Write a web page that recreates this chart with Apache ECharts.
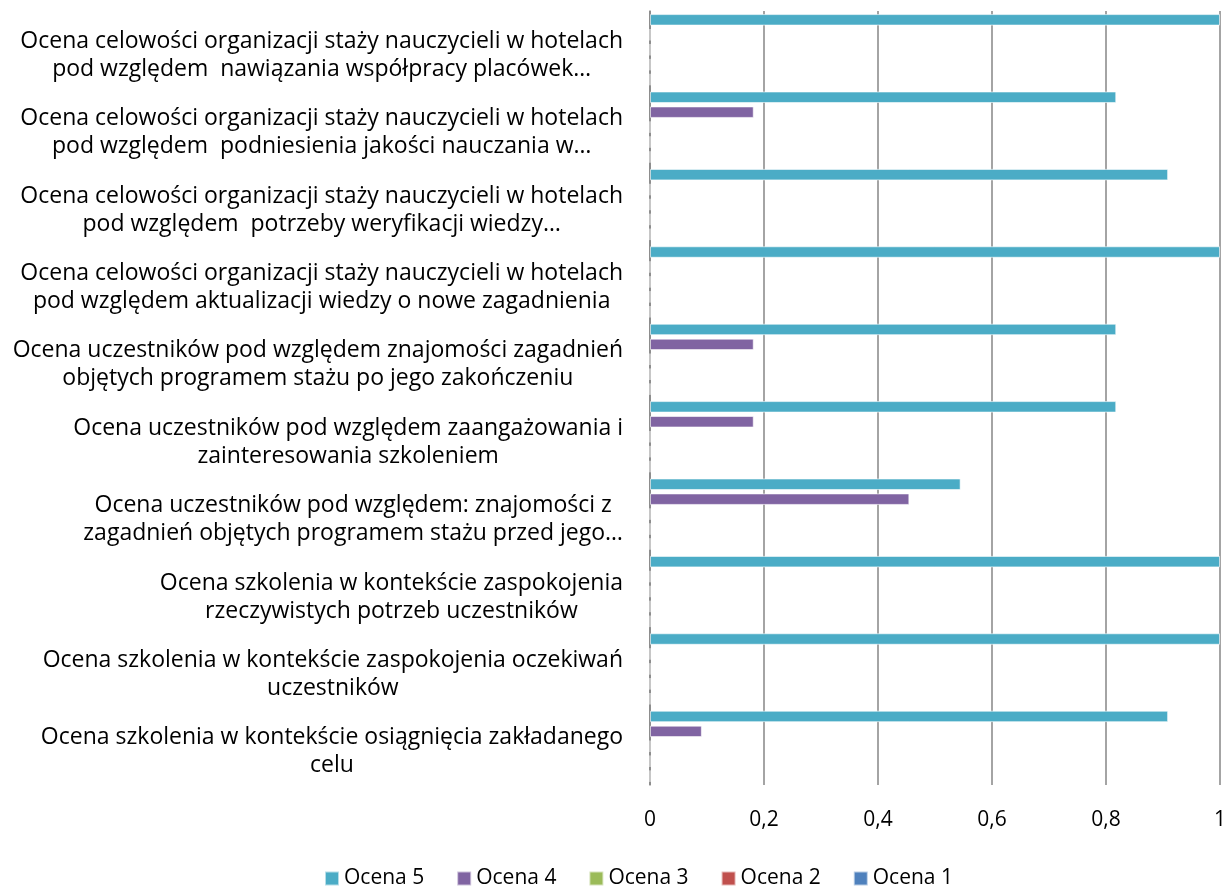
<!DOCTYPE html>
<html lang="pl">

<head>
    <meta charset="UTF-8">
    <title>Ocena stażu</title>
    <style>
        html, body { margin: 0; padding: 0; background: #fff; }
        .box { width: 1229px; height: 887px; }
    </style>
</head>

<body>
    <div class="box"></div>

    <script src="https://cdn.jsdelivr.net/npm/echarts@6/dist/echarts.min.js"></script>
    <script>
        // kategorie od góry do dołu, dwie linie rozdzielone \n
        let categories = [
            "Ocena celowości organizacji staży nauczycieli w hotelach\npod względem  nawiązania współpracy placówek…",
            "Ocena celowości organizacji staży nauczycieli w hotelach\npod względem  podniesienia jakości nauczania w…",
            "Ocena celowości organizacji staży nauczycieli w hotelach\npod względem  potrzeby weryfikacji wiedzy…",
            "Ocena celowości organizacji staży nauczycieli w hotelach\npod względem aktualizacji wiedzy o nowe zagadnienia",
            "Ocena uczestników pod względem znajomości zagadnień\nobjętych programem stażu po jego zakończeniu",
            "Ocena uczestników pod względem zaangażowania i\nzainteresowania szkoleniem",
            "Ocena uczestników pod względem: znajomości z\nzagadnień objętych programem stażu przed jego…",
            "Ocena szkolenia w kontekście zaspokojenia\nrzeczywistych potrzeb uczestników",
            "Ocena szkolenia w kontekście zaspokojenia oczekiwań\nuczestników",
            "Ocena szkolenia w kontekście osiągnięcia zakładanego\ncelu"
        ]
        let ocena5 = [1, 0.818, 0.909, 1, 0.818, 0.818, 0.545, 1, 1, 0.909]
        let ocena4 = [0, 0.182, 0, 0, 0.182, 0.182, 0.455, 0, 0, 0.091]
        let ocena3 = [0, 0, 0, 0, 0, 0, 0, 0, 0, 0]
        let ocena2 = [0, 0, 0, 0, 0, 0, 0, 0, 0, 0]
        let ocena1 = [0, 0, 0, 0, 0, 0, 0, 0, 0, 0]
        let seriesNames = ["Ocena 5", "Ocena 4", "Ocena 3", "Ocena 2", "Ocena 1"]
        let colors = ["#4BACC6", "#8064A2", "#9BBB59", "#C0504D", "#4F81BD"]

        let font = "'Open Sans', sans-serif"
        let myChart = echarts.init(document.querySelector(".box"));

        let seriesData = [ocena5, ocena4, ocena3, ocena2, ocena1]
        let series = seriesNames.map(function (name, i) {
            return {
                name: name,
                type: "bar",
                data: seriesData[i],
                barGap: "30%",
                barCategoryGap: "8%",
                itemStyle: {
                    color: colors[i],
                    borderColor: "rgba(255,255,255,0.6)",
                    borderWidth: 1
                }
            }
        })

        option = {
            animation: false,
            textStyle: { fontFamily: font },
            color: colors,
            legend: {
                data: seriesNames,
                left: 324,
                bottom: -2,
                padding: 0,
                itemWidth: 14,
                itemHeight: 14,
                itemGap: 32,
                icon: "rect",
                textStyle: { fontSize: 21, color: "#000", fontFamily: font }
            },
            grid: {
                left: 650,
                right: 7,
                top: 11,
                bottom: 102,
                containLabel: false
            },
            xAxis: {
                type: "value",
                min: 0,
                max: 1,
                interval: 0.2,
                axisLine: { show: false },
                axisTick: { show: false },
                axisLabel: {
                    margin: 25,
                    fontSize: 21,
                    color: "#000",
                    formatter: function (v) {
                        return String(Math.round(v * 10) / 10).replace(".", ",")
                    }
                },
                splitLine: {
                    show: true,
                    lineStyle: { color: "#868686", width: 1.5 }
                }
            },
            yAxis: {
                type: "category",
                inverse: true,
                data: categories,
                axisLine: { show: true, lineStyle: { color: "#868686", width: 1.5 } },
                axisTick: { show: false },
                axisLabel: {
                    margin: 27,
                    fontSize: 23,
                    color: "#000",
                    lineHeight: 28,
                    padding: [11, 0, 0, 0],
                    formatter: function (v) {
                        return v.split("\n").map(function (s) { return "{c|" + s + "}" }).join("\n")
                    },
                    rich: {
                        c: { align: "center", fontSize: 23, lineHeight: 28, color: "#000", fontFamily: font }
                    }
                }
            },
            series: series
        }
        myChart.setOption(option);
    </script>
</body>

</html>
